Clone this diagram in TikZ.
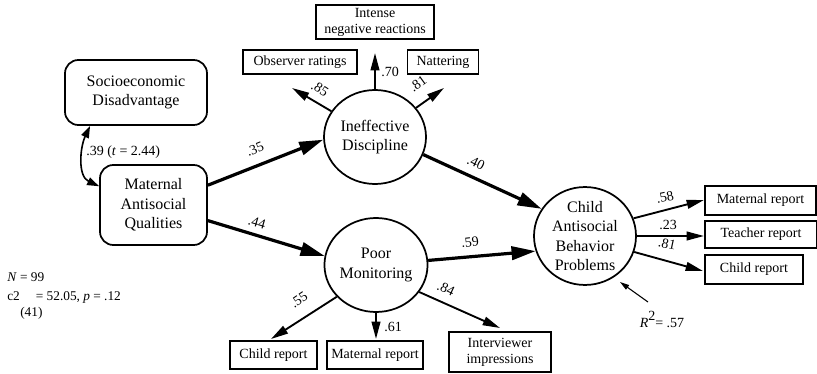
\documentclass[tikz,border=0pt]{standalone}
\usepackage{fontspec}
\setmainfont{Liberation Serif}
\usetikzlibrary{arrows.meta,shapes.geometric}

\begin{document}
\begin{tikzpicture}[x=0.75pt,y=-0.75pt,
  latent/.style={ellipse, draw, line width=1.3pt, minimum width=76.5pt, minimum height=70.5pt,
    inner sep=0pt, align=center, font=\fontsize{12}{14.5}\selectfont},
  exo/.style={rectangle, rounded corners=10pt, draw, line width=1.3pt, inner sep=0pt,
    align=center, font=\fontsize{12}{14.5}\selectfont},
  indic/.style={rectangle, draw, line width=1.2pt, inner sep=0pt, align=center,
    font=\fontsize{10.5}{12}\selectfont},
  mainpath/.style={line width=2.4pt, -{Triangle[length=18pt,width=10pt]}},
  loading/.style={line width=1.4pt, -{Triangle[length=13pt,width=6.5pt]}},
  corr/.style={line width=1.2pt, {Triangle[length=9pt,width=6pt]}-{Triangle[length=9pt,width=6pt]}},
  thinarrow/.style={line width=0.8pt, -{Triangle[length=7pt,width=4pt]}},
  coef/.style={font=\fontsize{10.5}{12}\selectfont, inner sep=0pt},
  stat/.style={font=\fontsize{10}{12}\selectfont, anchor=west, inner sep=0pt}
]
\useasboundingbox (0,0) rectangle (817,374);

% exogenous constructs
\node[exo, minimum width=106.5pt, minimum height=48.75pt] (ses) at (136,92.5)
  {Socioeconomic\\Disadvantage};
\node[exo, minimum width=80.25pt, minimum height=60pt] (mat) at (153.5,205)
  {Maternal\\Antisocial\\Qualities};

% latent constructs
\node[latent] (ineff) at (375,137) {Ineffective\\Discipline};
\node[latent] (poor)  at (376,265) {Poor\\Monitoring};
\node[latent] (child) at (585,236) {Child\\Antisocial\\Behavior\\Problems};

% indicators of ineffective discipline
\node[indic, minimum width=88.5pt, minimum height=25.5pt] (intense) at (375,22)
  {Intense\\negative reactions};
\node[indic, minimum width=85.5pt, minimum height=18pt] (observer) at (300,62) {Observer ratings};
\node[indic, minimum width=53.25pt, minimum height=18pt] (nattering) at (443,62) {Nattering};

% indicators of poor monitoring
\node[indic, minimum width=65.25pt, minimum height=21pt] (pmchild) at (273.5,355) {Child report};
\node[indic, minimum width=72pt, minimum height=21pt] (pmmother) at (375,355) {Maternal report};
\node[indic, minimum width=76.5pt, minimum height=30pt] (pminterv) at (500,352)
  {Interviewer\\impressions};

% indicators of child antisocial behavior
\node[indic, minimum width=83.25pt, minimum height=21.75pt] (cbmother) at (760.5,200.5) {Maternal report};
\node[indic, minimum width=84pt, minimum height=20.25pt] (cbteacher) at (761,234.5) {Teacher report};
\node[indic, minimum width=73.5pt, minimum height=21.75pt] (cbchild) at (754,269.5) {Child report};

% free ends of the loading arrows
\coordinate (obsTip) at (292,88);
\coordinate (intTip) at (375,53);
\coordinate (natTip) at (444,88);
\coordinate (pcTip) at (271,339);
\coordinate (pmTip) at (376,339);
\coordinate (piTip) at (500,328);
\coordinate (cmTip) at (704,200);
\coordinate (ctTip) at (704,236);
\coordinate (ccTip) at (703,271);
\coordinate (rStart) at (648,302);
\coordinate (rTip) at (620,282);

% structural paths
\draw[mainpath] (mat.20) -- (ineff.183);
\draw[mainpath] (mat.-16) -- (poor.170);
\draw[mainpath] (ineff.-20) -- (child.148);
\draw[mainpath] (poor.5) -- (child.197);

% correlation
\draw[corr] (ses.216.5) to[out=245,in=155] (mat.161);
\node[font=\fontsize{10.5}{12}\selectfont, anchor=west, inner sep=0pt] (corrlab) at (86,152)
  {.39 (\textit{t} = 2.44)};

% loadings
\draw[loading] (ineff) -- (obsTip);
\draw[loading] (ineff.north) -- (intTip);
\draw[loading] (ineff) -- (natTip);
\draw[loading] (poor.219) -- (pcTip);
\draw[loading] (poor.south) -- (pmTip);
\draw[loading] (poor.-32) -- (piTip);
\draw[loading] (child.20) -- (cmTip);
\draw[loading] (child.0) -- (ctTip);
\draw[loading] (child.-18) -- (ccTip);

% explained variance
\node[font=\fontsize{10.5}{12}\selectfont, inner sep=0pt] (rsq) at (662,319)
  {\textit{R}\raisebox{1.1ex}{2}= .57};
\draw[thinarrow] (rStart) -- (rTip);

% coefficients
\node[coef, rotate=22]  (c35) at (255,149) {.35};
\node[coef, rotate=-16] (c44) at (257,223) {.44};
\node[coef, rotate=-26] (c40) at (476,163) {.40};
\node[coef, rotate=7]   (c59) at (470,242) {.59};
\node[coef, rotate=-33] (c85) at (320,89) {.85};
\node[coef]             (c70) at (390,72) {.70};
\node[coef, rotate=36]  (c81a) at (418,84) {.81};
\node[coef, rotate=34]  (c55) at (299,300) {.55};
\node[coef]             (c61) at (393,327) {.61};
\node[coef, rotate=-25] (c84) at (446,289) {.84};
\node[coef, rotate=12]  (c58) at (665,197) {.58};
\node[coef]             (c23) at (668,225) {.23};
\node[coef, rotate=-12] (c81b) at (667,244) {.81};

% fit statistics
\node[stat] (nline) at (7,277) {\textit{N} = 99};
\node[stat] (chiline) at (7,297) {c2\hspace{12pt}= 52.05, \textit{p} = .12};
\node[stat] (dfline) at (20,313) {(41)};
\end{tikzpicture}
\end{document}
